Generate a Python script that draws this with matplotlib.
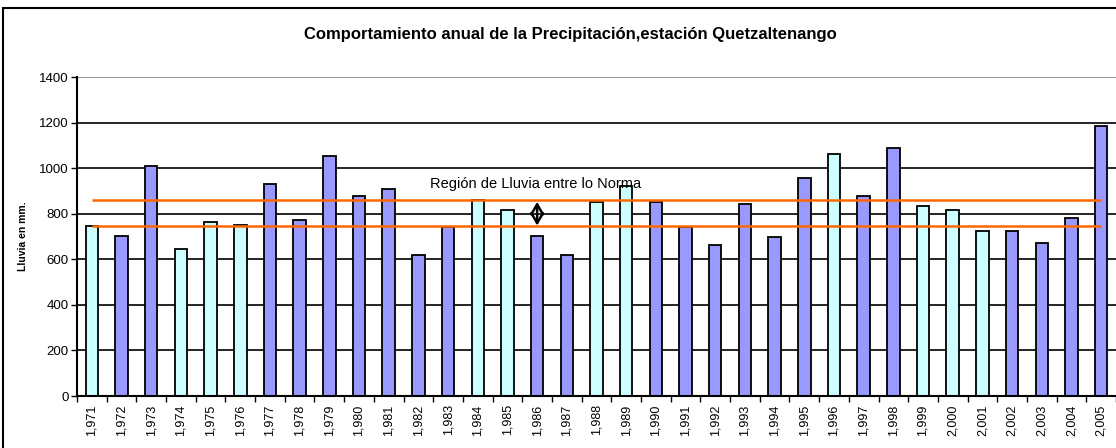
import numpy as np
import matplotlib.pyplot as plt
from matplotlib.patches import Rectangle, FancyArrowPatch

plt.rcParams['font.family'] = ['Liberation Sans', 'DejaVu Sans']

# annual rainfall, Quetzaltenango station
years = list(range(1971, 2006))
rain = [745, 700, 1008, 645, 762, 752, 930, 772, 1052, 878,
        910, 618, 743, 860, 815, 700, 620, 852, 920, 852,
        742, 662, 843, 697, 957, 1061, 877, 1087, 836, 817,
        722, 722, 670, 781, 1183]
# L = light (above/within normal), B = blue
kind = ['L', 'B', 'B', 'L', 'L', 'L', 'B', 'B', 'B', 'B',
        'B', 'B', 'B', 'L', 'L', 'B', 'B', 'L', 'L', 'B',
        'B', 'B', 'B', 'B', 'B', 'L', 'B', 'B', 'L', 'L',
        'L', 'B', 'B', 'B', 'B']
norm_low = 745
norm_high = 860
year_labels = ['{:,}'.format(y) for y in years]

W, H = 1116, 448
fig = plt.figure(figsize=(W / 100, H / 100), dpi=100)

# outer chart border (cropped on the right and bottom)
fig.patches.append(Rectangle((3 / W, -0.1), 1.2, 1.1 - 8 / H,
                             transform=fig.transFigure, fill=False,
                             edgecolor='black', linewidth=1.5))

ax = fig.add_axes([77 / W, (H - 396) / H, (1116 - 77) / W, (396 - 77) / H])
x = np.arange(len(years))
colors = ['#CCFFFF' if k == 'L' else '#9999FF' for k in kind]

ax.set_ylim(0, 1400)
ax.set_xlim(-0.5, len(years) - 0.5)
ax.set_yticks(range(0, 1401, 200))
for v in range(200, 1401, 200):
    ax.axhline(v, color='#808080' if v == 1400 else 'black', linewidth=1.2, zorder=1)

ax.bar(x, rain, width=0.42, color=colors, edgecolor='black', linewidth=1.3, zorder=2)

ax.hlines([norm_high, norm_low], 0, len(years) - 1, color='#FF6600', linewidth=1.8, zorder=3)

ax.text(11.4, 913, 'Región de Lluvia entre lo Norma', fontsize=10.5, zorder=4)
arr = FancyArrowPatch((15, 852), (15, 748), arrowstyle='<->,head_length=0.6,head_width=0.35',
                      mutation_scale=12, color='black', linewidth=1.8, shrinkA=0, shrinkB=0, zorder=4)
ax.add_patch(arr)

ax.set_xticks(x)
ax.set_xticklabels(year_labels, rotation=90, fontsize=9)
ax.set_xticks(np.arange(-0.5, len(years)), minor=True)
ax.tick_params(axis='x', which='major', length=0, pad=6)
ax.tick_params(axis='x', which='minor', length=4, width=1, direction='out')
ax.tick_params(axis='y', length=4, width=1, labelsize=9.5, pad=2)

for s in ['top', 'right']:
    ax.spines[s].set_visible(False)
ax.spines['left'].set_linewidth(1.5)
ax.spines['bottom'].set_linewidth(1.5)

ax.set_ylabel('Lluvia en mm.', fontsize=7.5, fontweight='bold', labelpad=8)

fig.text(570 / W, 1 - 35 / H, 'Comportamiento anual de la Precipitación,estación Quetzaltenango',
         ha='center', va='center', fontsize=12, fontweight='bold')

fig.savefig('out.png', dpi=100)
